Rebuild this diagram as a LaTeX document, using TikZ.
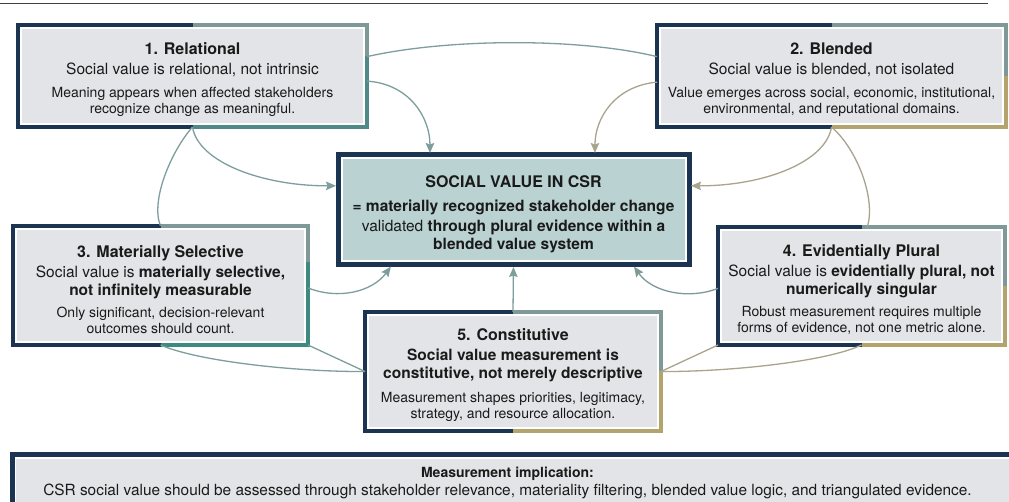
\documentclass[tikz,border=0pt]{standalone}
\usepackage{fontspec}
\setmainfont{TeX Gyre Heros}
\usetikzlibrary{arrows.meta,calc}

\definecolor{navy}{HTML}{1B3452}
\definecolor{boxgray}{HTML}{E3E4E7}
\definecolor{coreteal}{HTML}{BAD2D2}
\definecolor{tealA}{HTML}{4F8A88}
\definecolor{tealB}{HTML}{3C8A80}
\definecolor{slate}{HTML}{7F9999}
\definecolor{gold}{HTML}{B3A36C}
\definecolor{linkteal}{HTML}{7E9E9E}
\definecolor{linkgold}{HTML}{A9A48D}
\definecolor{inktext}{HTML}{1A1A1A}

% text levels inside the boxes; the strut in the title lowers each block a little
\newcommand{\boxtitle}[1]{{\fontsize{16}{18}\selectfont\bfseries\rule{0pt}{20pt}#1}}
\newcommand{\boxclaim}[1]{{\fontsize{15.5}{18}\selectfont #1}}
\newcommand{\boxnote}[1]{{\fontsize{14}{16}\selectfont #1}}

\tikzset{
  frame/.style={draw=navy, line width=4pt, fill=white, outer sep=0pt, inner sep=0pt,
    align=center, text=inktext, font=\fontsize{14}{16}\selectfont,
    path picture={\fill[boxgray] ([shift={(4pt,4pt)}]path picture bounding box.south west)
      rectangle ([shift={(-4pt,-4pt)}]path picture bounding box.north east);}},
  coreframe/.style={draw=navy, line width=5pt, fill=white, outer sep=0pt, inner sep=0pt,
    align=center, text=inktext, font=\fontsize{14}{16}\selectfont,
    path picture={\fill[coreteal] ([shift={(4.5pt,4.5pt)}]path picture bounding box.south west)
      rectangle ([shift={(-4.5pt,-4.5pt)}]path picture bounding box.north east);}},
  edge4/.style={line width=4pt},
  link/.style={line width=1.3pt},
  tip/.style={-{Stealth[length=10pt,width=8.5pt,inset=1.5pt]}, shorten >=2pt}
}

\begin{document}
\begin{tikzpicture}[x=1pt,y=-1pt]
\useasboundingbox (0,0) rectangle (1009,502);
\fill[white] (0,0) rectangle (1009,502);

% rule along the top
\draw[line width=1pt, black!75] (0,4) -- (988,4);

% principle boxes
\node[frame, minimum width=349pt, minimum height=102pt] (b1) at (192.5,76)
  {\boxtitle{1. Relational}\\[4pt]
   \boxclaim{Social value is relational, not intrinsic}\\[7pt]
   \boxnote{Meaning appears when affected stakeholders}\\
   \boxnote{recognize change as meaningful.}};

\node[frame, minimum width=349pt, minimum height=102pt] (b2) at (831.5,76)
  {\boxtitle{2. Blended}\\[4pt]
   \boxclaim{Social value is blended, not isolated}\\[7pt]
   \boxnote{Value emerges across social, economic, institutional,}\\
   \boxnote{environmental, and reputational domains.}};

\node[frame, minimum width=295pt, minimum height=119pt] (b3) at (160.5,285.5)
  {\boxtitle{3. Materially Selective}\\[4pt]
   \boxclaim{Social value is \textbf{materially selective,}}\\[2pt]
   \boxclaim{\textbf{not infinitely measurable}}\\[6pt]
   \boxnote{Only significant, decision-relevant}\\
   \boxnote{outcomes should count.}};

\node[frame, minimum width=287pt, minimum height=118pt] (b4) at (861.5,286)
  {\boxtitle{4. Evidentially Plural}\\[4pt]
   \boxclaim{Social value is \textbf{evidentially plural, not}}\\[2pt]
   \boxclaim{\textbf{numerically singular}}\\[6pt]
   \boxnote{Robust measurement requires multiple}\\
   \boxnote{forms of evidence, not one metric alone.}};

\node[frame, minimum width=296pt, minimum height=119pt] (b5) at (513,371.5)
  {\boxtitle{5. Constitutive}\\[4pt]
   \boxclaim{\textbf{Social value measurement is}}\\[2pt]
   \boxclaim{\textbf{constitutive, not merely descriptive}}\\[8pt]
   \boxnote{Measurement shapes priorities, legitimacy,}\\
   \boxnote{strategy, and resource allocation.}};

% central definition
\node[coreframe, minimum width=351pt, minimum height=110pt] (core) at (513.5,210)
  {\boxtitle{SOCIAL VALUE IN CSR}\\[8pt]
   \boxclaim{\textbf{= materially recognized stakeholder change}}\\[4pt]
   \boxclaim{validated \textbf{through plural evidence within a}}\\[2pt]
   \boxclaim{\textbf{blended value system}}};

% right halves of the frames
\draw[edge4, slate] (b1.north) -- (b1.north east) -- ($(b1.north east)!0.3!(b1.south east)$);
\draw[edge4, tealA] ($(b1.north east)!0.3!(b1.south east)$) -- (b1.south east) -- (b1.south);
\draw[edge4, slate] (b2.north) -- (b2.north east) -- (b2.east);
\draw[edge4, gold] (b2.east) -- (b2.south east) -- (b2.south);
\draw[edge4, slate] (b3.north) -- (b3.north east) -- ($(b3.north east)!0.3!(b3.south east)$);
\draw[edge4, tealB] ($(b3.north east)!0.3!(b3.south east)$) -- (b3.south east) -- (b3.south);
\draw[edge4, slate] (b4.north) -- (b4.north east) -- (b4.east);
\draw[edge4, gold] (b4.east) -- (b4.south east) -- (b4.south);
\draw[edge4, slate] (b5.north) -- (b5.north east) -- (b5.east);
\draw[edge4, gold] (b5.east) -- (b5.south east) -- (b5.south);

% implication banner
\node[frame, line width=5pt, minimum width=1010pt, minimum height=80pt] (banner) at (517,494.5) {};
\node[align=center, text=inktext, inner sep=0pt] (implication) at (507.5,483)
  {{\fontsize{14}{17}\selectfont\bfseries Measurement implication:}\\[2pt]
   {\fontsize{15.4}{17}\selectfont CSR social value should be assessed through stakeholder relevance, materiality filtering, blended value logic, and triangulated evidence.}};

% connectors
\coordinate (b1r1) at ($(b1.north east)!0.31!(b1.south east)$);
\coordinate (b1r2) at ($(b1.north east)!0.55!(b1.south east)$);
\coordinate (b2l1) at ($(b2.north west)!0.31!(b2.south west)$);
\coordinate (b2l2) at ($(b2.north west)!0.56!(b2.south west)$);
\coordinate (coreT1) at ($(core.north west)!0.262!(core.north east)$);
\coordinate (coreT2) at ($(core.north west)!0.732!(core.north east)$);
\coordinate (coreL) at ($(core.north west)!0.28!(core.south west)$);
\coordinate (coreR) at ($(core.north east)!0.28!(core.south east)$);
\coordinate (coreB1) at ($(core.south west)!0.154!(core.south east)$);
\coordinate (coreB2) at ($(core.south west)!0.84!(core.south east)$);
\coordinate (b3t) at ($(b3.north west)!0.5!(b3.north east)$);
\coordinate (b4t) at ($(b4.north west)!0.52!(b4.north east)$);
\coordinate (b3r) at ($(b3.north east)!0.52!(b3.south east)$);
\coordinate (b4l) at ($(b4.north west)!0.52!(b4.south west)$);

\draw[link, linkteal] (b1r1) .. controls (450,38) and (580,38) .. (b2l1);
\draw[link, linkteal, tip] (b1r2) .. controls (410,84) and (430,118) .. (coreT1);
\draw[link, linkgold, tip] (b2l2) .. controls (615,86) and (595,118) .. (coreT2);
\draw[link, linkteal, tip] (b1.south) .. controls (198,162) and (262,186) .. (coreL);
\draw[link, linkteal] (b1.south) .. controls (172,150) and (150,200) .. (b3t);
\draw[link, linkgold, tip] (b2.south) .. controls (826,162) and (764,186) .. (coreR);
\draw[link, linkgold] (b2.south) .. controls (858,150) and (876,200) .. (b4t);
\draw[link, linkteal, tip] (b3r) .. controls (338,300) and (372,292) .. (coreB1);
\draw[link, linkteal, tip] (b5.north) -- (core.south);
\draw[link, slate, tip] (b4l) .. controls (688,300) and (652,292) .. (coreB2);
\draw[link, linkteal] (b3.south) .. controls (200,362) and (300,372) .. (b5.west);
\draw[link, linkteal] (b3.south east) -- (b5.west);
\draw[link, linkgold] (b4.south west) -- (b5.east);
\draw[link, linkgold] (b4.south) .. controls (826,362) and (726,372) .. (b5.east);
\end{tikzpicture}
\end{document}
